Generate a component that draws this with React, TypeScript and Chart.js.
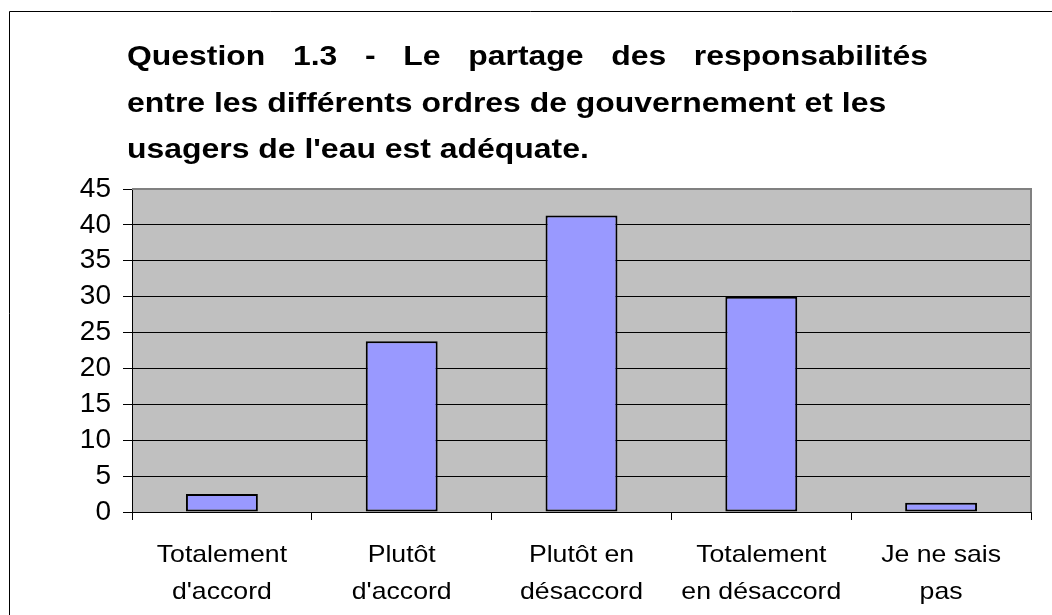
import React, { useEffect, useRef } from "react";
import { Chart, registerables } from "chart.js";

Chart.register(...registerables);

const titleLines: string[] = [
  "Question 1.3 - Le partage des responsabilités",
  "entre les différents ordres de gouvernement et les",
  "usagers de l'eau est adéquate.",
];
const categories: string[][] = [
  ["Totalement", "d'accord"],
  ["Plutôt", "d'accord"],
  ["Plutôt en", "désaccord"],
  ["Totalement", "en désaccord"],
  ["Je ne sais", "pas"],
];
const values: number[] = [2.5, 23.8, 41.3, 30.0, 1.3];
const yTicks: number[] = [0, 5, 10, 15, 20, 25, 30, 35, 40, 45];

const FONT = "'Liberation Sans', Arial, Helvetica, sans-serif";
const TITLE_STRETCH = 1.14;
const LABEL_STRETCH = 1.11;

const decorPlugin = {
  id: "decor",
  beforeDraw(chart: any) {
    const { ctx, chartArea: a } = chart;
    ctx.save();
    ctx.fillStyle = "#ffffff";
    ctx.fillRect(0, 0, chart.width, chart.height);
    ctx.strokeStyle = "#000000";
    ctx.lineWidth = 1;
    ctx.beginPath();
    ctx.moveTo(9.5, chart.height);
    ctx.lineTo(9.5, 11.5);
    ctx.lineTo(chart.width, 11.5);
    ctx.stroke();
    ctx.fillStyle = "#C0C0C0";
    ctx.fillRect(a.left, a.top, a.right - a.left, a.bottom - a.top);
    ctx.restore();
  },
  beforeDatasetsDraw(chart: any) {
    const { ctx, chartArea: a } = chart;
    ctx.save();
    ctx.strokeStyle = "#808080";
    ctx.lineWidth = 2;
    ctx.beginPath();
    ctx.moveTo(a.left, a.top);
    ctx.lineTo(a.right, a.top);
    ctx.lineTo(a.right, a.bottom);
    ctx.stroke();
    ctx.restore();
  },
  afterDraw(chart: any) {
    const { ctx } = chart;
    ctx.save();
    ctx.fillStyle = "#000000";
    ctx.textBaseline = "alphabetic";
    ctx.font = `bold 28px ${FONT}`;
    const tLeft = 127;
    const tRight = 928;
    const baselines = [65, 111.5, 158];
    titleLines.forEach((line, i) => {
      const y = baselines[i];
      if (i === 0) {
        const words = line.split(" ");
        const widths = words.map((w) => ctx.measureText(w).width * TITLE_STRETCH);
        const total = widths.reduce((s, w) => s + w, 0);
        const gap = (tRight - tLeft - total) / (words.length - 1);
        let x = tLeft;
        words.forEach((w, k) => {
          ctx.save();
          ctx.translate(x, y);
          ctx.scale(TITLE_STRETCH, 1);
          ctx.textAlign = "left";
          ctx.fillText(w, 0, 0);
          ctx.restore();
          x += widths[k] + gap;
        });
      } else {
        ctx.save();
        ctx.translate(tLeft, y);
        ctx.scale(TITLE_STRETCH, 1);
        ctx.textAlign = "left";
        ctx.fillText(line, 0, 0);
        ctx.restore();
      }
    });
    const xs = chart.scales.x;
    ctx.font = `24px ${FONT}`;
    ctx.textAlign = "center";
    const lb = [562, 599];
    categories.forEach((lines, i) => {
      const cx = xs.getPixelForValue(i);
      lines.forEach((t, j) => {
        ctx.save();
        ctx.translate(cx, lb[j]);
        ctx.scale(LABEL_STRETCH, 1);
        ctx.fillText(t, 0, 0);
        ctx.restore();
      });
    });
    ctx.restore();
  },
};

export default function App() {
  const ref = useRef<HTMLCanvasElement | null>(null);
  useEffect(() => {
    if (!ref.current) return;
    const chart = new Chart(ref.current, {
      type: "bar",
      data: {
        labels: categories,
        datasets: [
          {
            data: values,
            backgroundColor: "#9999FF",
            borderColor: "#000000",
            borderWidth: 2,
            borderSkipped: false,
            barPercentage: 0.4,
            categoryPercentage: 1,
          },
        ],
      },
      options: {
        animation: false,
        responsive: false,
        devicePixelRatio: 1,
        layout: { padding: { top: 189, left: 0, right: 21, bottom: 0 } },
        plugins: {
          legend: { display: false },
          title: { display: false },
          tooltip: { enabled: false },
        },
        scales: {
          x: {
            afterFit: (s: any) => {
              s.height = 103;
            },
            grid: {
              offset: true,
              drawOnChartArea: false,
              drawTicks: true,
              tickLength: 8,
              color: "#000000",
            },
            border: { display: true, color: "#000000", width: 1 },
            ticks: { display: false },
          },
          y: {
            min: 0,
            max: 45,
            afterFit: (s: any) => {
              s.width = 132;
            },
            afterBuildTicks: (s: any) => {
              s.ticks = yTicks.map((v) => ({ value: v }));
            },
            grid: {
              color: "#000000",
              lineWidth: 1,
              tickLength: 9,
              tickColor: "#000000",
            },
            border: { display: true, color: "#000000", width: 1 },
            ticks: {
              autoSkip: false,
              padding: 12,
              color: "#000000",
              font: { family: FONT, size: 28 },
            },
          },
        },
      },
      plugins: [decorPlugin],
    });
    return () => chart.destroy();
  }, []);
  return (
    <div style={{ position: "fixed", left: 0, top: 0, width: 1052, height: 615, background: "#fff" }}>
      <canvas ref={ref} width={1052} height={615} style={{ display: "block" }} />
    </div>
  );
}
